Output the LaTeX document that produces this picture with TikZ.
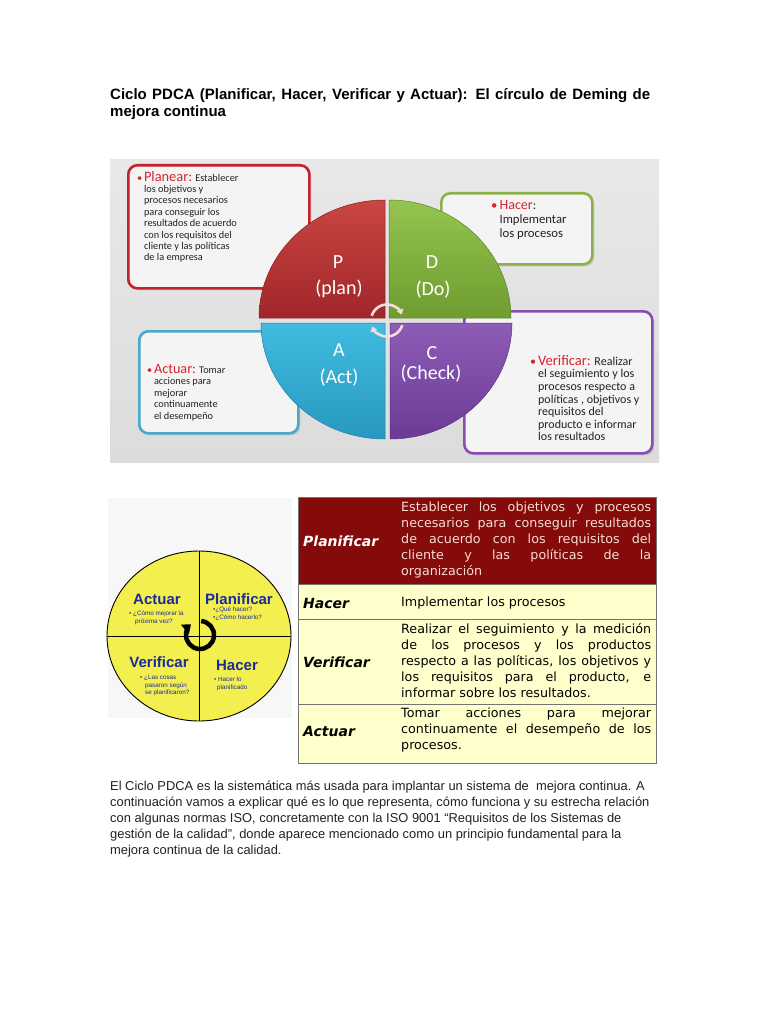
\documentclass[tikz,border=0pt]{standalone}
\usepackage{fontspec}
\setmainfont{Liberation Sans}
\newfontfamily\calfont{Carlito}
\newfontfamily\tahfont{DejaVu Sans}
\usetikzlibrary{shadows,arrows.meta,shapes.geometric}
\definecolor{bgray}{HTML}{E8E8E8}
\definecolor{bgrayb}{HTML}{DCDCDC}
\definecolor{boxfill}{HTML}{F4F4F4}
\definecolor{cred}{HTML}{D9222C}
\definecolor{bred}{HTML}{C6202A}
\definecolor{bgreen}{HTML}{8DB04A}
\definecolor{bcyan}{HTML}{4AA8C8}
\definecolor{bpurple}{HTML}{8A4DB0}
\definecolor{pTop}{HTML}{C94641}
\definecolor{pBot}{HTML}{A1262A}
\definecolor{dTop}{HTML}{95C450}
\definecolor{dBot}{HTML}{6E9C2F}
\definecolor{aTop}{HTML}{41BBE0}
\definecolor{aBot}{HTML}{2898C0}
\definecolor{cTop}{HTML}{8E5CB6}
\definecolor{cBot}{HTML}{6A3B95}
\definecolor{arrowpink}{HTML}{F2DEDE}
\definecolor{wyellow}{HTML}{F3EF4E}
\definecolor{wblue}{HTML}{1B2A9C}
\definecolor{maroon}{HTML}{850A0A}
\definecolor{lyellow}{HTML}{FFFFCC}
\definecolor{pinktext}{HTML}{F5DED2}
\definecolor{txt}{HTML}{222222}
\tikzset{
  callout/.style={rounded corners=9pt, line width=2.6pt, fill=boxfill, anchor=north west,
    drop shadow={opacity=0.25, shadow xshift=2pt, shadow yshift=-2pt}},
  boxtext/.style={anchor=north west, inner sep=0pt, align=left, text=txt},
  quadlab/.style={text=white, font=\calfont\fontsize{20}{20}\selectfont, inner sep=0pt},
  wlab/.style={text=wblue, font=\bfseries\fontsize{15}{15}\selectfont, inner sep=0pt},
  wsmall/.style={text=wblue, font=\fontsize{6.3}{7.6}\selectfont, align=left, inner sep=0pt, anchor=north west},
  rowbox/.style={anchor=north west, minimum width=358pt, inner sep=0pt, draw=black!55, line width=0.7pt},
  rowlab/.style={anchor=west, inner sep=0pt, font=\tahfont\bfseries\itshape\fontsize{14}{14}\selectfont},
  rowdesc/.style={anchor=north west, inner sep=0pt, align=left, font=\tahfont\fontsize{12.7}{16}\selectfont},
  carrow/.style={draw=arrowpink, line width=2.6pt, -{Triangle[length=5pt,width=7pt]}}
}
\begin{document}
\begin{tikzpicture}[x=1pt,y=-1pt]
\useasboundingbox (0,0) rectangle (768,1024);
\fill[white] (0,0) rectangle (768,1024);

% title
\node[anchor=base west, inner sep=0pt, font=\bfseries\fontsize{15}{18}\selectfont] (title1) at (110,100)
  {\makebox[540pt][s]{Ciclo PDCA (Planificar, Hacer, Verificar y Actuar): El círculo de Deming de}};
\node[anchor=base west, inner sep=0pt, font=\bfseries\fontsize{15}{18}\selectfont] (title2) at (110,117) {mejora continua};

% top picture background
\shade[top color=bgray, bottom color=bgrayb] (110,160) rectangle (659,462);

% callout boxes
\node[callout, draw=bred, minimum width=181pt, minimum height=123pt] (bplan) at (127,164) {};
\node[callout, draw=bgreen, minimum width=151pt, minimum height=71pt] (bdo) at (440,192) {};
\node[callout, draw=bcyan, minimum width=159pt, minimum height=102pt] (bact) at (138,330) {};
\node[callout, draw=bpurple, minimum width=188pt, minimum height=142pt] (bcheck) at (463,310) {};

% box texts
\node[boxtext, font=\calfont\fontsize{10.3}{11.4}\selectfont] (tplan) at (137,171) {%
\begin{tabular}{@{}l@{\,}l@{}}
{\color{cred}\textbullet} & {\color{cred}\fontsize{14.4}{14}\selectfont Planear:} Establecer\\
 & los objetivos y\\
 & procesos necesarios\\
 & para conseguir los\\
 & resultados de acuerdo\\
 & con los requisitos del\\
 & cliente y las políticas\\
 & de la empresa
\end{tabular}};
\node[boxtext, font=\calfont\fontsize{12.7}{14}\selectfont] (tdo) at (491,200) {%
\begin{tabular}{@{}l@{\,}l@{}}
{\color{cred}\textbullet} & {\color{cred}\fontsize{14}{14}\selectfont Hacer}:\\
 & Implementar\\
 & los procesos
\end{tabular}};
\node[boxtext, font=\calfont\fontsize{10.3}{11.5}\selectfont] (tact) at (147,364) {%
\begin{tabular}{@{}l@{\,}l@{}}
{\color{cred}\textbullet} & {\color{cred}\fontsize{14.2}{14}\selectfont Actuar:} Tomar\\
 & acciones para\\
 & mejorar\\
 & continuamente\\
 & el desempeño
\end{tabular}};
\node[boxtext, font=\calfont\fontsize{12}{12.6}\selectfont] (tcheck) at (530,355) {%
\begin{tabular}{@{}l@{\,}l@{}}
{\color{cred}\textbullet} & {\color{cred}\fontsize{14.5}{14}\selectfont Verificar:} Realizar\\
 & el seguimiento y los\\
 & procesos respecto a\\
 & políticas , objetivos y\\
 & requisitos del\\
 & producto e informar\\
 & los resultados
\end{tabular}};

% quadrants
\shade[top color=pTop, bottom color=pBot, draw=pBot!85!black, line width=0.5pt]
  (385,318) -- ++(-126,0) arc[start angle=180, end angle=270, x radius=126, y radius=118] -- cycle;
\shade[top color=dTop, bottom color=dBot, draw=dBot!85!black, line width=0.5pt]
  (389,318) -- ++(0,-118) arc[start angle=270, end angle=360, x radius=122, y radius=118] -- cycle;
\shade[top color=cTop, bottom color=cBot, draw=cBot!85!black, line width=0.5pt]
  (390,323) -- ++(122,0) arc[start angle=0, end angle=90, x radius=122, y radius=116] -- cycle;
\shade[top color=aTop, bottom color=aBot, draw=aBot!85!black, line width=0.5pt]
  (385,323) -- ++(0,116) arc[start angle=90, end angle=180, x radius=124, y radius=116] -- cycle;

\node[quadlab] (qP) at (338,262) {P};
\node[quadlab] (qPl) at (339,289) {(plan)};
\node[quadlab] (qD) at (432,262) {D};
\node[quadlab] (qDl) at (433,290) {(Do)};
\node[quadlab] (qA) at (339,350) {A};
\node[quadlab] (qAl) at (339,378) {(Act)};
\node[quadlab] (qC) at (432,353) {C};
\node[quadlab] (qCl) at (431,374) {(Check)};

% centre arrows
\draw[carrow] (387,320.5) ++(197:16) arc[start angle=197, end angle=338, radius=16];
\draw[carrow] (387,320.5) ++(17:16) arc[start angle=17, end angle=158, radius=16];

% small wheel
\fill[black!3] (108,498) rectangle (292,718);
\node[ellipse, draw=black, line width=0.9pt, fill=wyellow, minimum width=184pt, minimum height=170pt, inner sep=0pt] (wheel) at (199,636) {};
\draw[line width=0.8pt] (wheel.west) -- (wheel.east);
\draw[line width=0.8pt] (wheel.north) -- (wheel.south);
\node[wlab] (wact) at (157,599) {Actuar};
\node[wlab] (wplan) at (239,599) {Planificar};
\node[wlab] (wver) at (159,662) {Verificar};
\node[wlab] (whac) at (237,665) {Hacer};
\node[wsmall] (sact) at (129,611) {\textbullet\ ¿Cómo mejorar la\\\hspace*{6pt}próxima vez?};
\node[wsmall] (splan) at (213,607) {\textbullet¿Qué hacer?\\\textbullet¿Cómo hacerlo?};
\node[wsmall] (sver) at (140,675) {\textbullet\ ¿Las cosas\\\hspace*{5pt}pasaron según\\\hspace*{5pt}se planificaron?};
\node[wsmall] (shac) at (214,677) {\textbullet\ Hacer lo\\\hspace*{3pt}planificado};
\draw[line width=4.5pt, -{Triangle[length=8pt,width=12pt]}] (200,635) ++(275:14) arc[start angle=275, end angle=590, radius=14];

% table
\node[rowbox, fill=maroon, minimum height=87pt] (r1) at (298,497) {};
\node[rowbox, fill=lyellow, minimum height=35pt] (r2) at (298,584) {};
\node[rowbox, fill=lyellow, minimum height=85pt] (r3) at (298,619) {};
\node[rowbox, fill=lyellow, minimum height=59pt] (r4) at (298,704) {};
\node[rowlab, text=white] (l1) at (303,541) {Planificar};
\node[rowlab] (l2) at (303,603) {Hacer};
\node[rowlab] (l3) at (303,662) {Verificar};
\node[rowlab] (l4) at (303,731) {Actuar};
\node[rowdesc, text=pinktext] (d1) at (401,502) {%
\makebox[250pt][s]{Establecer los objetivos y procesos}\\
\makebox[250pt][s]{necesarios para conseguir resultados}\\
\makebox[250pt][s]{de acuerdo con los requisitos del}\\
\makebox[250pt][s]{cliente y las políticas de la}\\
organización};
\node[rowdesc, anchor=west] (d2) at (401,603) {Implementar los procesos};
\node[rowdesc] (d3) at (401,623) {%
\makebox[250pt][s]{Realizar el seguimiento y la medición}\\
\makebox[250pt][s]{de los procesos y los productos}\\
\makebox[250pt][s]{respecto a las políticas, los objetivos y}\\
\makebox[250pt][s]{los requisitos para el producto, e}\\
informar sobre los resultados.};
\node[rowdesc] (d4) at (401,708) {%
\makebox[250pt][s]{Tomar acciones para mejorar}\\
\makebox[250pt][s]{continuamente el desempeño de los}\\
procesos.};

% paragraph
\node[anchor=north west, inner sep=0pt, align=left, font=\fontsize{12.9}{16}\selectfont, text=txt] (para) at (110,781) {%
El Ciclo PDCA es la sistemática más usada para implantar un sistema de\ \ mejora continua. A\\
continuación vamos a explicar qué es lo que representa, cómo funciona y su estrecha relación\\
con algunas normas ISO, concretamente con la ISO 9001 “Requisitos de los Sistemas de\\
gestión de la calidad”, donde aparece mencionado como un principio fundamental para la\\
mejora continua de la calidad.};
\end{tikzpicture}
\end{document}
